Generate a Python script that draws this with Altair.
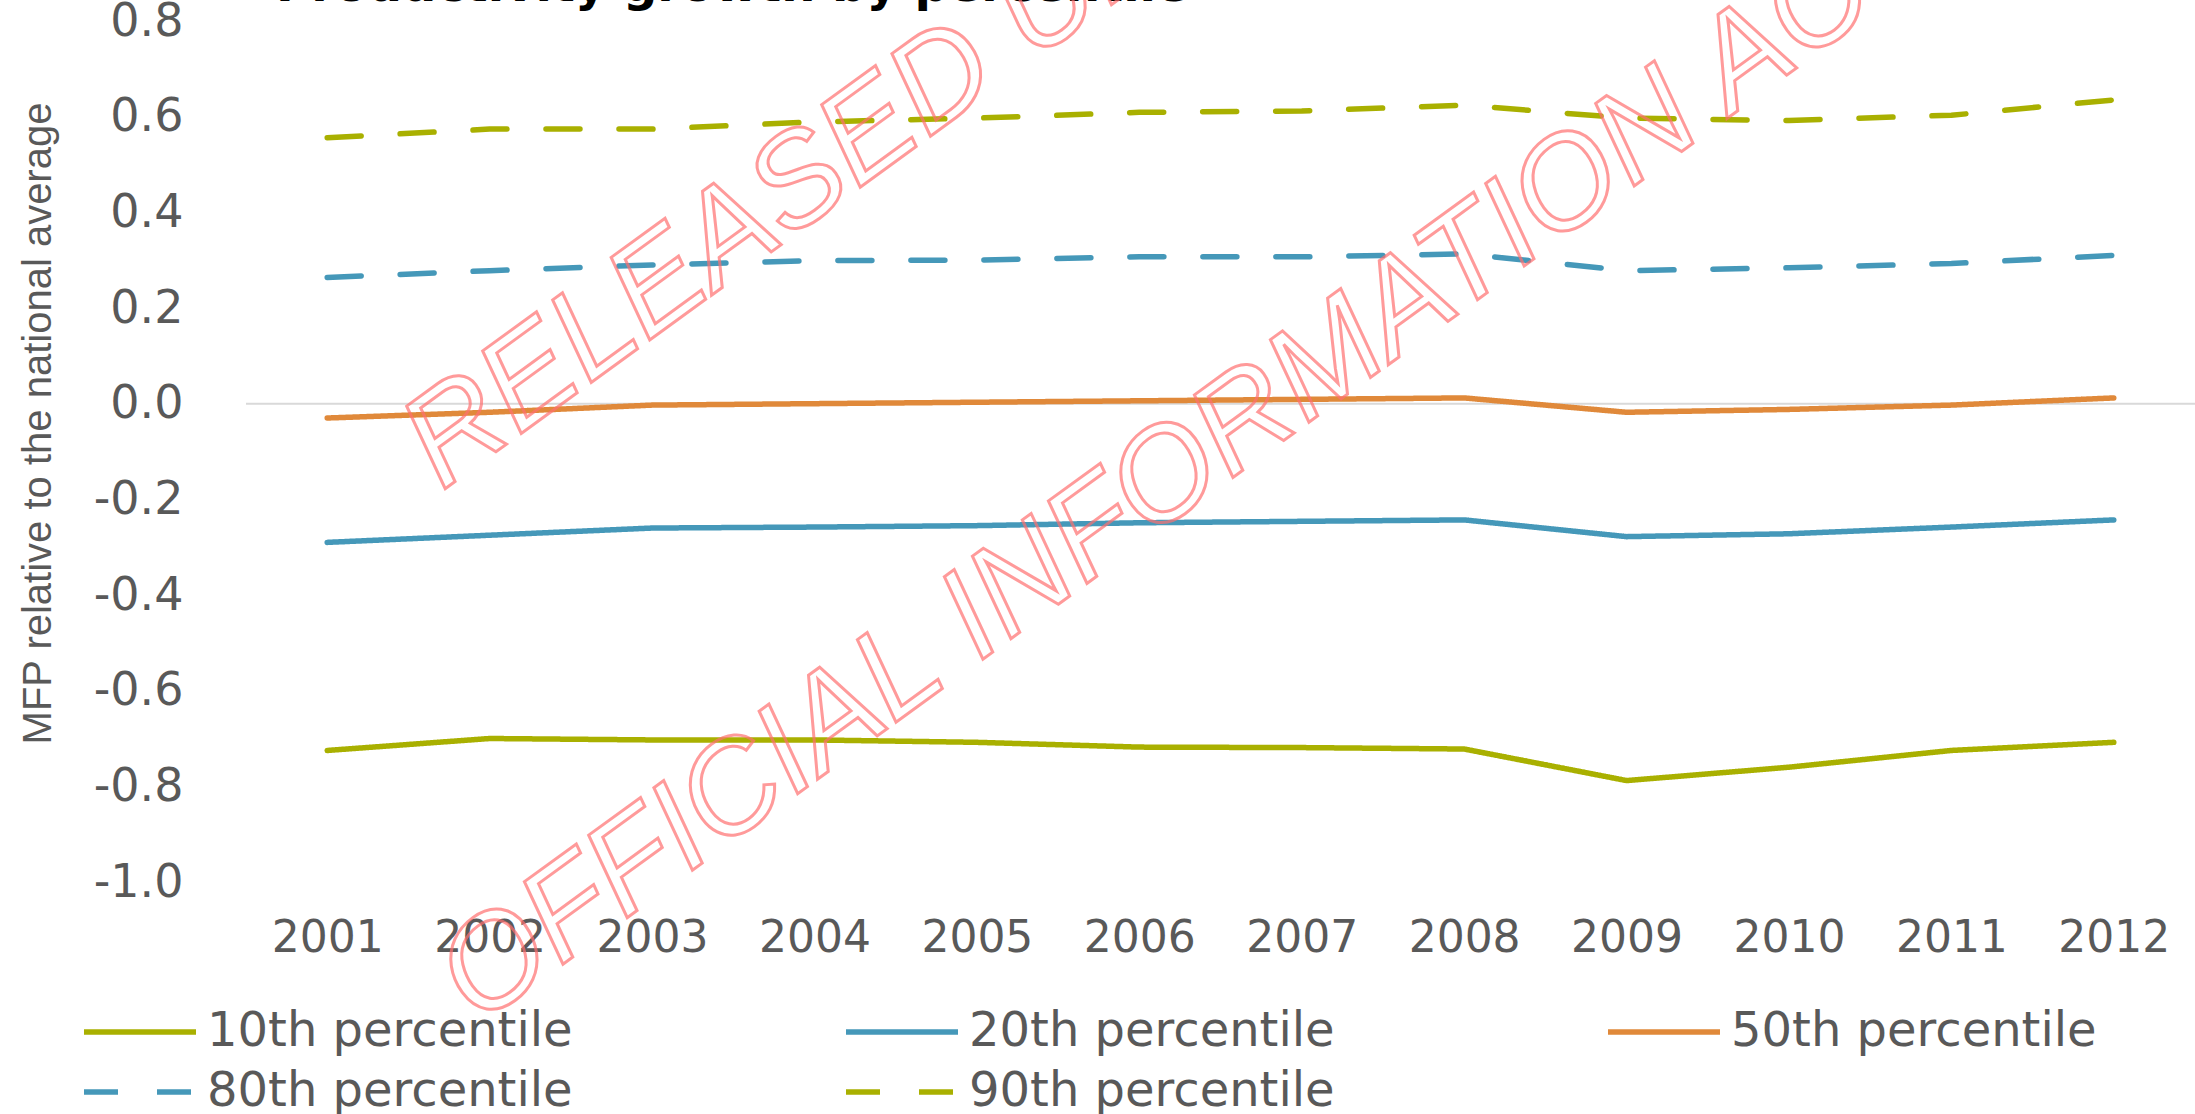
import altair as alt
import pandas as pd

years = ["2001", "2002", "2003", "2004", "2005", "2006", "2007", "2008", "2009", "2010", "2011", "2012"]
series_names = ["10th percentile", "20th percentile", "50th percentile", "80th percentile", "90th percentile"]
p10 = [-0.725, -0.700, -0.703, -0.703, -0.708, -0.718, -0.719, -0.722, -0.788, -0.760, -0.725, -0.708]
p20 = [-0.290, -0.275, -0.260, -0.258, -0.255, -0.249, -0.246, -0.243, -0.278, -0.272, -0.258, -0.243]
p50 = [-0.030, -0.018, -0.003, 0.000, 0.003, 0.006, 0.009, 0.012, -0.018, -0.012, -0.003, 0.012]
p80 = [0.264, 0.278, 0.290, 0.299, 0.300, 0.307, 0.307, 0.313, 0.278, 0.284, 0.293, 0.310]
p90 = [0.556, 0.574, 0.574, 0.589, 0.597, 0.609, 0.612, 0.624, 0.597, 0.592, 0.603, 0.635]
colors = ["#A9B000", "#4598B9", "#E0893A", "#4598B9", "#A9B000"]
dashes = [[1, 0], [1, 0], [1, 0], [34, 39], [34, 39]]
widths = [5.5, 5.5, 5.5, 7, 7]
title_text = "Productivity growth by percentile"
y_title = "MFP relative to the national average"
watermark = ["RELEASED UNDER THE", "OFFICIAL INFORMATION ACT"]

rows = []
for name, vals in zip(series_names, [p10, p20, p50, p80, p90]):
    for yr, v in zip(years, vals):
        rows.append({"year": yr, "value": v, "series": name})
df = pd.DataFrame(rows)

GRAY = "#595959"
W, H = 1949, 861

lines = alt.Chart(df).mark_line(strokeCap="round", strokeJoin="round").encode(
    x=alt.X("year:O", sort=years,
            scale=alt.Scale(type="point", padding=0.5),
            axis=alt.Axis(title=None, labelAngle=0, domain=False, ticks=False, tickSize=0,
                          labelFont="DejaVu Sans", labelFontSize=44, labelColor=GRAY,
                          labelPadding=56, labelBaseline="middle")),
    y=alt.Y("value:Q",
            scale=alt.Scale(domain=[-1.0, 0.8], nice=False, zero=False),
            axis=alt.Axis(values=[-1.0, -0.8, -0.6, -0.4, -0.2, 0.0, 0.2, 0.4, 0.6, 0.8],
                          labelExpr="(datum.value < -0.0001 ? '-' : '') + format(abs(datum.value), '.1f')",
                          domain=False, ticks=False, tickSize=0, grid=False,
                          labelFont="DejaVu Sans", labelFontSize=46, labelColor=GRAY,
                          labelPadding=63,
                          title=y_title, titleFont="Liberation Sans", titleFontSize=40,
                          titleFontWeight="normal", titleColor=GRAY, titleAngle=270,
                          titleX=-208, titleY=402, titleAlign="center", titleBaseline="middle")),
    color=alt.Color("series:N", sort=series_names,
                    scale=alt.Scale(domain=series_names, range=colors),
                    legend=alt.Legend(title=None, orient="none", legendX=-165, legendY=986,
                                      columns=3, direction="horizontal",
                                      symbolType="stroke", symbolSize=12544, symbolStrokeWidth=6,
                                      labelFont="DejaVu Sans", labelFontSize=48, labelColor=GRAY,
                                      labelLimit=800, labelOffset=8, clipHeight=50,
                                      rowPadding=10, columnPadding=270, padding=0, offset=0)),
    strokeDash=alt.StrokeDash("series:N", sort=series_names,
                              scale=alt.Scale(domain=series_names, range=dashes)),
    strokeWidth=alt.StrokeWidth("series:N", scale=alt.Scale(domain=series_names, range=widths),
                                legend=None),
)

zero = alt.Chart(pd.DataFrame({"z": [0.0]})).mark_rule(color="#D9D9D9", strokeWidth=2).encode(
    y=alt.Y("z:Q")
)

title = alt.Chart(pd.DataFrame({"t": [title_text]})).mark_text(
    align="left", baseline="alphabetic", font="DejaVu Sans", fontSize=48,
    fontWeight="bold", color="#000000"
).encode(text="t:N", x=alt.value(30), y=alt.value(-20))

wm_style = dict(align="left", baseline="alphabetic", font="Liberation Sans", fontSize=130,
                fontStyle="italic", angle=324, fillOpacity=0, stroke="#FF6F6F",
                strokeWidth=3, strokeOpacity=0.7)

wm1 = alt.Chart(pd.DataFrame({"t": [watermark[0]]})).mark_text(**wm_style).encode(
    text="t:N", x=alt.value(196), y=alt.value(470))

wm2 = alt.Chart(pd.DataFrame({"t": [watermark[1]]})).mark_text(**wm_style).encode(
    text="t:N", x=alt.value(232), y=alt.value(1005))

chart = alt.layer(zero, lines, title, wm1, wm2).properties(
    width=W, height=H,
    background="white",
    autosize=alt.AutoSizeParams(type="none"),
    padding={"left": 246, "top": 21, "right": 0, "bottom": 232},
).configure_view(stroke=None, strokeWidth=0)

chart.save("out.html", embed_options={"renderer": "svg", "actions": False})
